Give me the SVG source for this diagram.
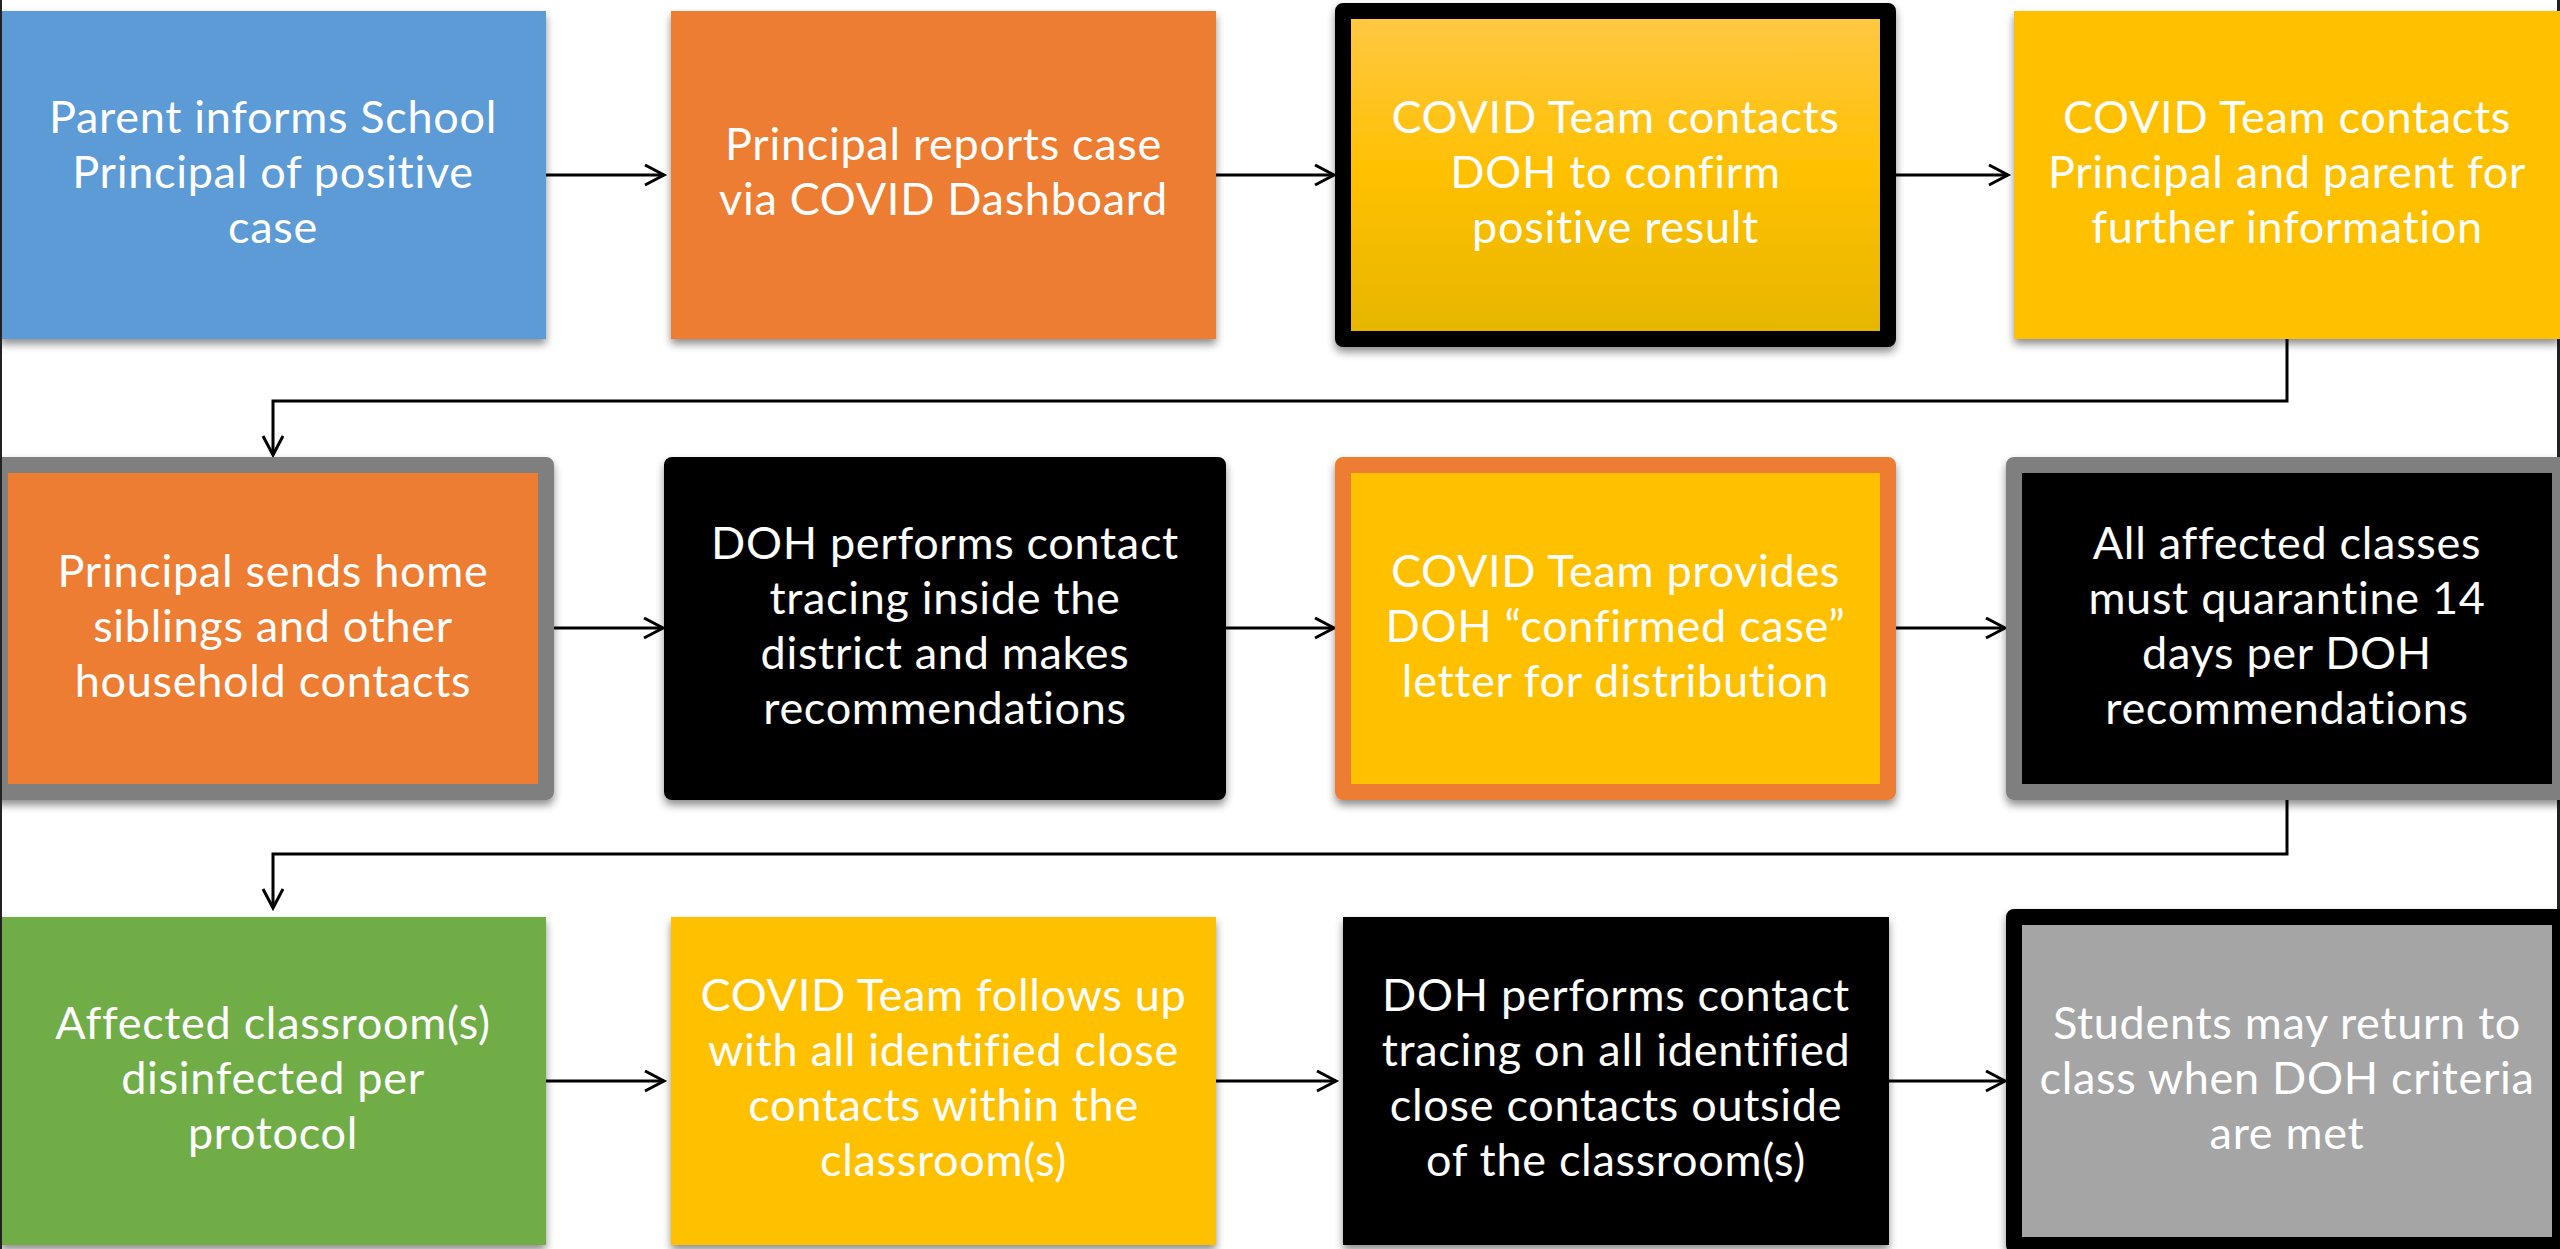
<svg xmlns="http://www.w3.org/2000/svg" width="2560" height="1249" viewBox="0 0 2560 1249">
<style>
.t{font-family:Lato,"Noto Sans","Liberation Sans",sans-serif;font-size:45px;letter-spacing:0.7px;fill:#fff;text-anchor:middle}
.b{stroke-width:16;stroke-linejoin:round}
.c{fill:none;stroke:#000;stroke-width:3}
</style>
<defs>
<filter id="sh" x="-5%" y="-5%" width="110%" height="115%">
<feDropShadow dx="0" dy="5" stdDeviation="4" flood-color="#000" flood-opacity="0.45"/>
</filter>
<linearGradient id="g3" x1="0" y1="0" x2="0" y2="1">
<stop offset="0" stop-color="#FFC845"/>
<stop offset="0.5" stop-color="#FFC000"/>
<stop offset="1" stop-color="#E5B600"/>
</linearGradient>
<marker id="ah" markerWidth="24" markerHeight="24" refX="20" refY="11" orient="auto" markerUnits="userSpaceOnUse">
<path d="M1,1 L20,11 L1,21" fill="none" stroke="#000" stroke-width="3"/>
</marker>
</defs>
<rect width="2560" height="1249" fill="#fff"/>
<rect x="2557" y="0" width="3" height="1249" fill="#222"/>
<g id="connectors">
<path class="c" d="M546,175 H664" marker-end="url(#ah)"/>
<path class="c" d="M1216,175 H1334" marker-end="url(#ah)"/>
<path class="c" d="M1896,175 H2008" marker-end="url(#ah)"/>
<path class="c" d="M2287,339 V401 H273 V455" marker-end="url(#ah)"/>
<path class="c" d="M553,628 H663" marker-end="url(#ah)"/>
<path class="c" d="M1226,628 H1334" marker-end="url(#ah)"/>
<path class="c" d="M1896,628 H2005" marker-end="url(#ah)"/>
<path class="c" d="M2287,800 V854 H273 V908" marker-end="url(#ah)"/>
<path class="c" d="M546,1081 H664" marker-end="url(#ah)"/>
<path class="c" d="M1216,1081 H1336" marker-end="url(#ah)"/>
<path class="c" d="M1889,1081 H2005" marker-end="url(#ah)"/>
</g>
<g id="n1"><rect x="0" y="11" width="546" height="328" fill="#5B9BD5" filter="url(#sh)"/>
<text class="t"><tspan x="273" y="133">Parent informs School</tspan><tspan x="273" y="188">Principal of positive</tspan><tspan x="273" y="243">case</tspan></text></g>
<g id="n2"><rect x="671" y="11" width="545" height="328" fill="#ED7D31" filter="url(#sh)"/>
<text class="t"><tspan x="943.5" y="160">Principal reports case</tspan><tspan x="943.5" y="215">via COVID Dashboard</tspan></text></g>
<g id="n3"><rect class="b" x="1343" y="11" width="545" height="328" fill="url(#g3)" stroke="#000" filter="url(#sh)"/>
<text class="t"><tspan x="1615.5" y="133">COVID Team contacts</tspan><tspan x="1615.5" y="188">DOH to confirm</tspan><tspan x="1615.5" y="243">positive result</tspan></text></g>
<g id="n4"><rect x="2014" y="11" width="546" height="328" fill="#FFC000" filter="url(#sh)"/>
<text class="t"><tspan x="2287" y="133">COVID Team contacts</tspan><tspan x="2287" y="188">Principal and parent for</tspan><tspan x="2287" y="243">further information</tspan></text></g>
<g id="n5"><rect class="b" x="0" y="465" width="546" height="327" fill="#ED7D31" stroke="#7F7F7F" filter="url(#sh)"/>
<text class="t"><tspan x="273" y="587">Principal sends home</tspan><tspan x="273" y="642">siblings and other</tspan><tspan x="273" y="697">household contacts</tspan></text></g>
<g id="n6"><rect class="b" x="672" y="465" width="546" height="327" fill="#000" stroke="#000" filter="url(#sh)"/>
<text class="t"><tspan x="945" y="559">DOH performs contact</tspan><tspan x="945" y="614">tracing inside the</tspan><tspan x="945" y="669">district and makes</tspan><tspan x="945" y="724">recommendations</tspan></text></g>
<g id="n7"><rect class="b" x="1343" y="465" width="545" height="327" fill="#FFC000" stroke="#ED7D31" filter="url(#sh)"/>
<text class="t"><tspan x="1615.5" y="587">COVID Team provides</tspan><tspan x="1615.5" y="642">DOH “confirmed case”</tspan><tspan x="1615.5" y="697">letter for distribution</tspan></text></g>
<g id="n8"><rect class="b" x="2014" y="465" width="546" height="327" fill="#000" stroke="#7F7F7F" filter="url(#sh)"/>
<text class="t"><tspan x="2287" y="559">All affected classes</tspan><tspan x="2287" y="614">must quarantine 14</tspan><tspan x="2287" y="669">days per DOH</tspan><tspan x="2287" y="724">recommendations</tspan></text></g>
<g id="n9"><rect x="0" y="917" width="546" height="328" fill="#70AD47" filter="url(#sh)"/>
<text class="t"><tspan x="273" y="1039">Affected classroom(s)</tspan><tspan x="273" y="1094">disinfected per</tspan><tspan x="273" y="1149">protocol</tspan></text></g>
<g id="n10"><rect x="671" y="917" width="545" height="328" fill="#FFC000" filter="url(#sh)"/>
<text class="t"><tspan x="943.5" y="1011">COVID Team follows up</tspan><tspan x="943.5" y="1066">with all identified close</tspan><tspan x="943.5" y="1121">contacts within the</tspan><tspan x="943.5" y="1176">classroom(s)</tspan></text></g>
<g id="n11"><rect x="1343" y="917" width="546" height="328" fill="#000" filter="url(#sh)"/>
<text class="t"><tspan x="1616" y="1011">DOH performs contact</tspan><tspan x="1616" y="1066">tracing on all identified</tspan><tspan x="1616" y="1121">close contacts outside</tspan><tspan x="1616" y="1176">of the classroom(s)</tspan></text></g>
<g id="n12"><rect class="b" x="2014" y="917" width="546" height="328" fill="#A5A5A5" stroke="#000" filter="url(#sh)"/>
<text class="t"><tspan x="2287" y="1039">Students may return to</tspan><tspan x="2287" y="1094">class when DOH criteria</tspan><tspan x="2287" y="1149">are met</tspan></text></g>
<rect x="0" y="0" width="2" height="1249" fill="#222"/>
</svg>
